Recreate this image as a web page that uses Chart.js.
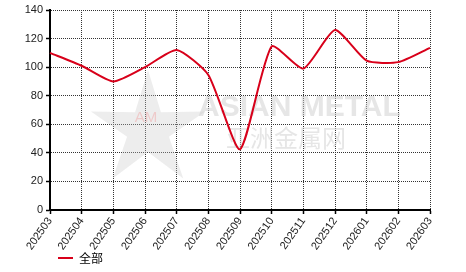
<!DOCTYPE html>
<html>
<head>
<meta charset="utf-8">
<script src="https://cdn.jsdelivr.net/npm/chart.js@4/dist/chart.umd.min.js"></script>
<style>
  html, body { margin: 0; padding: 0; background: #fff; }
  #wrap { position: relative; width: 466px; height: 272px; }
  #legend { position: absolute; left: 58px; top: 249px; font: 12px "Noto Sans CJK SC", sans-serif; color: #000; display: flex; align-items: center; }
  #legend span.swatch { display: inline-block; width: 15px; height: 2px; background: #d8001a; margin-right: 6px; }
</style>
</head>
<body>
<div id="wrap">
  <canvas id="chart" width="466" height="272"></canvas>
  <div id="legend"></div>
</div>
<script>
"use strict";

// months on the x axis
const months = ['202503', '202504', '202505', '202506', '202507', '202508', '202509',
                '202510', '202511', '202512', '202601', '202602', '202603'];
// series values
const allValues = [110, 101, 90, 100, 112, 94.5, 42.5, 114.5, 99, 126, 104.5, 103.5, 113.5];
const seriesName = '全部';
const yTicks = [0, 20, 40, 60, 80, 100, 120, 140];

const lineColor = '#d8001a';

// faint watermark behind the line
const watermark = {
    id: 'watermark',
    beforeDatasetsDraw(chart) {
        const ctx = chart.ctx;
        ctx.save();
        // star
        ctx.fillStyle = 'rgba(200,200,200,0.33)';
        const cx = 148, cy = 130, R = 60, r = 22;
        ctx.beginPath();
        for (let i = 0; i < 10; i++) {
            const rad = i % 2 ? r : R;
            const a = -Math.PI / 2 + i * Math.PI / 5;
            const px = cx + rad * Math.cos(a), py = cy + rad * Math.sin(a);
            if (i === 0) ctx.moveTo(px, py); else ctx.lineTo(px, py);
        }
        ctx.closePath();
        ctx.fill();
        ctx.fillStyle = 'rgba(240,150,150,0.4)';
        ctx.font = '15px "Liberation Sans", Arial, sans-serif';
        ctx.textAlign = 'center';
        ctx.textBaseline = 'middle';
        ctx.fillText('AM', 146, 118);
        ctx.fillStyle = 'rgba(205,205,205,0.5)';
        ctx.font = 'bold 30px "Liberation Sans", Arial, sans-serif';
        ctx.textAlign = 'left';
        ctx.fillText('ASIAN METAL', 198, 108);
        ctx.font = '24px "Noto Sans CJK SC", sans-serif';
        ctx.fillText('亚洲金属网', 226, 138);
        ctx.restore();
    }
};

const tickFont = { family: '"Liberation Sans", Arial, sans-serif', size: 11 };

const gridOpts = {
    color: '#333',
    lineWidth: 1,
    borderDash: [1, 1],
    tickLength: 4,
    tickColor: '#000',
    tickBorderDash: [],
    tickWidth: 1.5,
};

new Chart(document.getElementById('chart'), {
    type: 'line',
    data: {
        labels: months,
        datasets: [{
            label: seriesName,
            data: allValues,
            borderColor: lineColor,
            backgroundColor: lineColor,
            borderWidth: 2,
            pointRadius: 0,
            tension: 0.2,
            fill: false,
        }]
    },
    plugins: [watermark],
    options: {
        responsive: false,
        animation: false,
        layout: { padding: { top: 10, right: 36, left: 0, bottom: 0 } },
        plugins: {
            legend: { display: false },
            tooltip: { enabled: false },
        },
        scales: {
            x: {
                offset: false,
                afterFit(scale) { scale.height = 62; },
                grid: gridOpts,
                border: { display: true, color: '#000', width: 2, dash: [1, 1] },
                ticks: {
                    color: '#222',
                    font: tickFont,
                    minRotation: 55,
                    maxRotation: 55,
                    padding: 1,
                    autoSkip: false,
                },
            },
            y: {
                min: 0,
                max: 140,
                afterFit(scale) { scale.width = 50; },
                afterBuildTicks(scale) { scale.ticks = yTicks.map(v => ({ value: v })); },
                grid: gridOpts,
                border: { display: true, color: '#000', width: 2, dash: [1, 1] },
                ticks: {
                    color: '#222',
                    font: tickFont,
                    padding: 3,
                },
            },
        },
    }
});

document.getElementById('legend').innerHTML = '<span class="swatch"></span>' + seriesName;
</script>
</body>
</html>
